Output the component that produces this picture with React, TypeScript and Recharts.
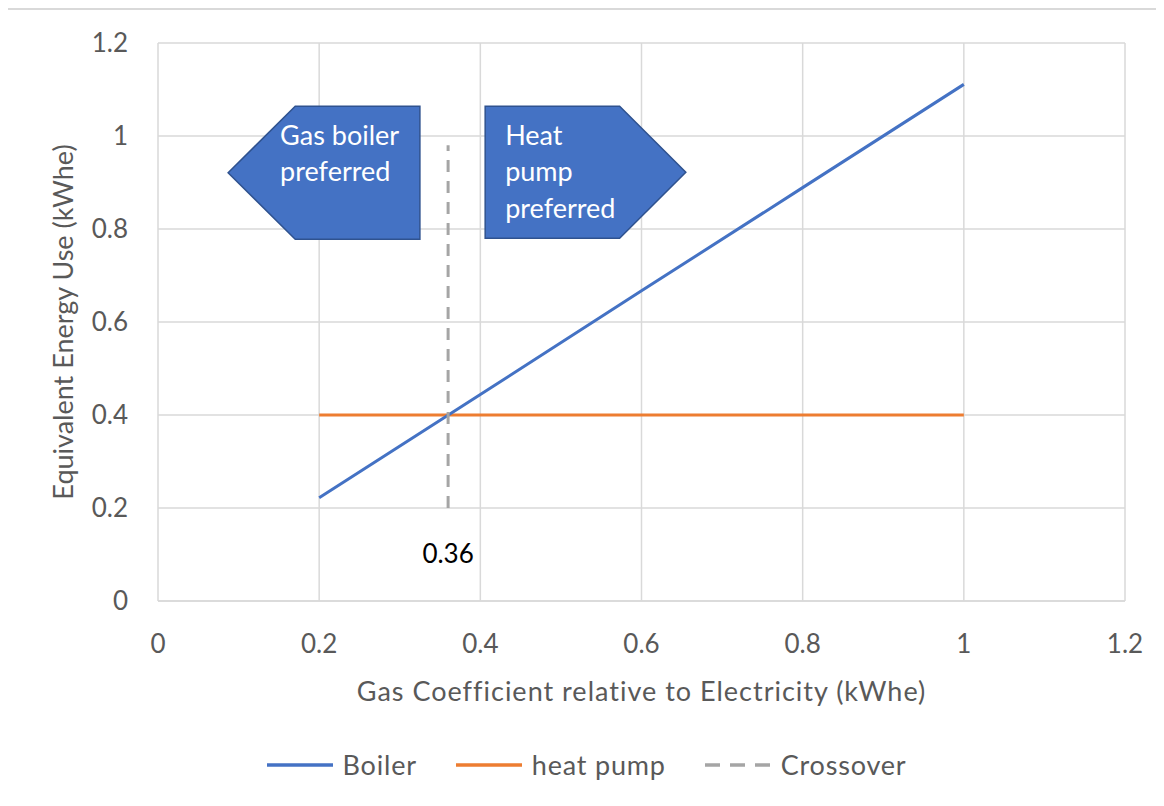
import React from 'react';
import { LineChart, Line, XAxis, YAxis, CartesianGrid, Legend, ReferenceArea } from 'recharts';

const xTicks = [0, 0.2, 0.4, 0.6, 0.8, 1, 1.2];
const yTicks = [0, 0.2, 0.4, 0.6, 0.8, 1, 1.2];

const gasCoeff = [0.2, 0.4, 0.6, 0.8, 1.0];
const boilerUse = [0.222, 0.444, 0.667, 0.889, 1.111];
const heatPumpUse = [0.4, 0.4, 0.4, 0.4, 0.4];

const crossoverX = [0.36, 0.36];
const crossoverY = [0.2, 0.98];
const CROSSOVER_LABEL = '0.36';

const boilerData = gasCoeff.map((x, i) => ({ x, y: boilerUse[i] }));
const heatPumpData = gasCoeff.map((x, i) => ({ x, y: heatPumpUse[i] }));
const crossoverData = crossoverX.map((x, i) => ({ x, y: crossoverY[i] }));

const arrowLeft = { x1: 0.087, x2: 0.325, y1: 0.778, y2: 1.064, lines: ['Gas boiler', 'preferred'] };
const arrowRight = { x1: 0.406, x2: 0.655, y1: 0.78, y2: 1.064, lines: ['Heat', 'pump', 'preferred'] };

const FONT = 'Lato, "Noto Sans", sans-serif';
const GREY_TEXT = '#595959';
const GRID = '#d9d9d9';

const makeArrowShape = (dir: 'left' | 'right', lines: string[]) => (props: any) => {
  const { x, y, width, height } = props;
  const notch = width * (dir === 'left' ? 0.35 : 0.33);
  const midY = y + height / 2;
  const pts =
    dir === 'left'
      ? [[x, midY], [x + notch, y], [x + width, y], [x + width, y + height], [x + notch, y + height]]
      : [[x, y], [x + width - notch, y], [x + width, midY], [x + width - notch, y + height], [x, y + height]];
  const tx = dir === 'left' ? x + 52 : x + 20;
  return (
    <g>
      <polygon points={pts.map((p) => p.join(',')).join(' ')} fill="#4472c4" stroke="#2f528f" strokeWidth={1.5} />
      {lines.map((t, i) => (
        <text key={i} x={tx} y={y + 28 + i * 36.5} fill="#ffffff" fontSize={27} fontFamily={FONT} dominantBaseline="central">
          {t}
        </text>
      ))}
    </g>
  );
};

const legendItems = [
  { name: 'Boiler', color: '#4472c4', dash: undefined as string | undefined },
  { name: 'heat pump', color: '#ed7d31', dash: undefined as string | undefined },
  { name: 'Crossover', color: '#a5a5a5', dash: '15 10' },
];

const renderLegend = () => (
  <div style={{ display: 'flex', justifyContent: 'center', alignItems: 'center', fontFamily: FONT, fontSize: 27, letterSpacing: 0.8, color: GREY_TEXT }}>
    {legendItems.map((it, i) => (
      <div key={i} style={{ display: 'flex', alignItems: 'center', marginRight: i < legendItems.length - 1 ? 38 : 0 }}>
        <svg width={68} height={10} style={{ marginRight: 9 }}>
          <line x1={1} y1={5} x2={67} y2={5} stroke={it.color} strokeWidth={3.5} strokeDasharray={it.dash} />
        </svg>
        <span>{it.name}</span>
      </div>
    ))}
  </div>
);

export default function App() {
  return (
    <div
      style={{
        position: 'relative',
        width: 1158,
        height: 798,
        marginLeft: -2,
        borderTop: `2px solid ${GRID}`,
        borderLeft: `2px solid ${GRID}`,
        boxSizing: 'border-box',
        background: '#fff',
      }}
    >
      <LineChart width={1156} height={796} margin={{ top: 33, right: 39, left: 0, bottom: 0 }}>
        <CartesianGrid stroke={GRID} strokeWidth={1.5} />
        <XAxis
          type="number"
          dataKey="x"
          domain={[0, 1.2]}
          ticks={xTicks}
          height={205}
          tickSize={0}
          tickMargin={34}
          axisLine={{ stroke: GRID, strokeWidth: 1.5 }}
          tickLine={false}
          tick={{ fill: GREY_TEXT, fontSize: 26, fontFamily: FONT }}
          label={{
            content: (p: any) => {
              const vb = p.viewBox;
              return (
                <text x={vb.x + vb.width / 2} y={vb.y + 89} textAnchor="middle" dominantBaseline="central" fill={GREY_TEXT} fontSize={27} letterSpacing={1} fontFamily={FONT}>
                  Gas Coefficient relative to Electricity (kWhe)
                </text>
              );
            },
          }}
        />
        <YAxis
          type="number"
          domain={[0, 1.2]}
          ticks={yTicks}
          width={150}
          tickSize={0}
          tickMargin={30}
          axisLine={false}
          tickLine={false}
          tick={{ fill: GREY_TEXT, fontSize: 26, fontFamily: FONT }}
          label={{
            content: (p: any) => {
              const vb = p.viewBox;
              const cx = vb.x + 54;
              const cy = vb.y + vb.height / 2;
              return (
                <text x={cx} y={cy} transform={`rotate(-90 ${cx} ${cy})`} textAnchor="middle" dominantBaseline="central" fill={GREY_TEXT} fontSize={27} fontFamily={FONT}>
                  Equivalent Energy Use (kWhe)
                </text>
              );
            },
          }}
        />
        <ReferenceArea x1={arrowLeft.x1} x2={arrowLeft.x2} y1={arrowLeft.y1} y2={arrowLeft.y2} shape={makeArrowShape('left', arrowLeft.lines)} />
        <ReferenceArea x1={arrowRight.x1} x2={arrowRight.x2} y1={arrowRight.y1} y2={arrowRight.y2} shape={makeArrowShape('right', arrowRight.lines)} />
        <Line data={heatPumpData} dataKey="y" name="heat pump" stroke="#ed7d31" strokeWidth={3} dot={false} isAnimationActive={false} />
        <Line data={boilerData} dataKey="y" name="Boiler" stroke="#4472c4" strokeWidth={3} dot={false} isAnimationActive={false} />
        <Line
          data={crossoverData}
          dataKey="y"
          name="Crossover"
          stroke="#a5a5a5"
          strokeWidth={3}
          strokeDasharray="12 9"
          dot={false}
          isAnimationActive={false}
          label={(p: any) =>
            p.index === 0 ? (
              <text key="lbl" x={p.x} y={p.y + 45} textAnchor="middle" dominantBaseline="central" fill="#000" fontSize={26} fontFamily={FONT}>
                {CROSSOVER_LABEL}
              </text>
            ) : (
              <g key={`e${p.index}`} />
            )
          }
        />
        <Legend layout="horizontal" verticalAlign="middle" align="center" content={renderLegend} wrapperStyle={{ top: 738, left: 0, width: 1156, height: 40 }} />
      </LineChart>
    </div>
  );
}
